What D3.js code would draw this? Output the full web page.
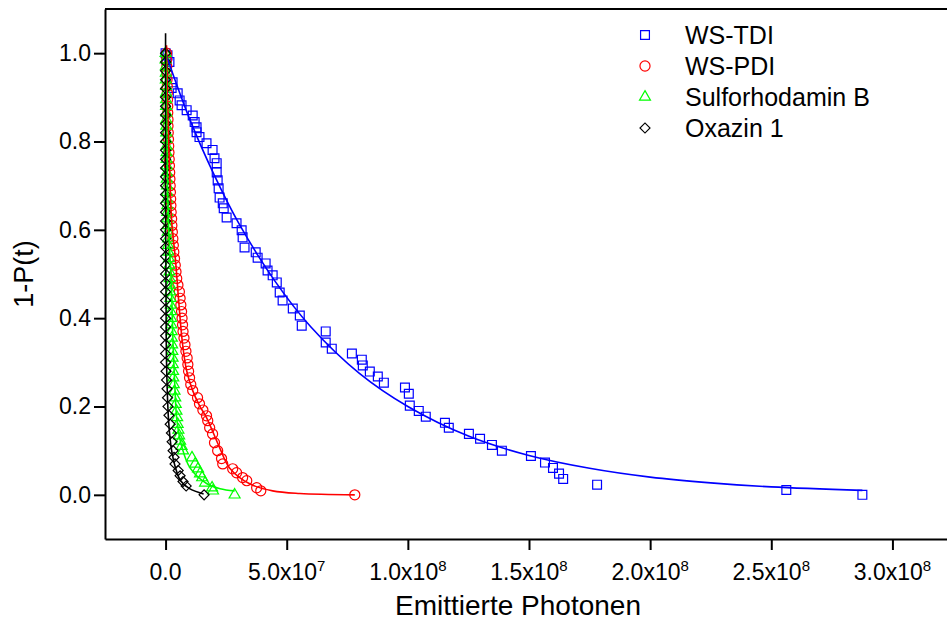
<!DOCTYPE html>
<html>
<head>
<meta charset="utf-8">
<script src="https://d3js.org/d3.v7.min.js"></script>
<style>
  body { margin: 0; background: #fff; }
  svg { font-family: Arial, "Liberation Sans", sans-serif; }
</style>
</head>
<body>
<div id="chart"></div>
<script>
// values, x in units of 10^6 photons, y = 1-P(t)
var tdiPoints = [[0,1.000],[0.8,0.995],[0.4,0.984],[1.6,0.980],[2.9,0.934],[2.5,0.921],[5.0,0.909],[5.8,0.893],[6.6,0.882],[8.7,0.871],
  [11.2,0.859],[12.0,0.844],[12.8,0.832],[12.8,0.821],[14.0,0.810],[16.9,0.796],[19.4,0.781],[20.2,0.762],[21.1,0.751],[21.1,0.730],
  [21.5,0.712],[21.9,0.694],[22.3,0.673],[23.6,0.660],[24.0,0.649],[25.2,0.628],[29.3,0.615],[31.4,0.599],[31.8,0.583],[32.6,0.560],
  [37.2,0.549],[38.0,0.537],[41.3,0.524],[42.1,0.508],[44.2,0.497],[45.9,0.481],[47.1,0.458],[48.3,0.440],[52.5,0.422],[55.4,0.406],
  [56.2,0.383],[66.1,0.370],[66.1,0.345],[68.6,0.331],[76.9,0.320],[81.0,0.306],[81.4,0.293],[84.3,0.279],[87.6,0.268],[90.1,0.254],
  [98.8,0.243],[100.4,0.229],[100.8,0.202],[104.5,0.190],[107.4,0.177],[115.3,0.163],[116.9,0.152],[125.2,0.138],[129.8,0.127],[134.7,0.113],
  [138.8,0.100],[150.8,0.088],[156.6,0.073],[159.9,0.061],[162.4,0.048],[164.1,0.036],[178.1,0.023],[256.2,0.011],[287.6,0.000]];

var pdiPoints = [[0.4,1.000],[0.4,0.985],[0.5,0.970],[0.6,0.955],[0.6,0.940],[0.7,0.925],[0.7,0.910],[0.8,0.895],[0.9,0.880],[0.9,0.865],
  [1.0,0.850],[1.0,0.835],[1.1,0.820],[1.2,0.805],[1.3,0.790],[1.4,0.775],[1.5,0.760],[1.6,0.745],[1.7,0.730],[1.8,0.715],
  [1.9,0.700],[2.0,0.685],[2.1,0.670],[2.2,0.655],[2.3,0.640],[2.5,0.625],[2.6,0.610],[2.8,0.595],[3.0,0.580],[3.2,0.565],
  [3.4,0.550],[3.7,0.535],[4.0,0.520],[4.3,0.505],[4.6,0.490],[5.1,0.475],[5.7,0.460],[6.0,0.445],[6.3,0.430],[6.6,0.415],
  [6.8,0.400],[7.0,0.385],[7.2,0.370],[7.6,0.355],[8.0,0.340],[8.4,0.325],[8.9,0.310],[9.2,0.295],[9.5,0.280],[9.9,0.265],
  [10.4,0.250],[11.2,0.236],[13.2,0.220],[14.0,0.206],[15.4,0.192],[16.9,0.179],[17.4,0.168],[18.2,0.152],[19.4,0.138],[20.2,0.118],
  [21.5,0.100],[23.1,0.082],[23.6,0.070],[27.7,0.059],[29.3,0.050],[31.8,0.039],[33.5,0.032],[37.6,0.016],[39.3,0.009],[78.1,0.000]];

var srbPoints = [[0.0,1.000],[0.0,0.985],[0.1,0.970],[0.1,0.955],[0.1,0.940],[0.2,0.925],[0.2,0.910],[0.2,0.895],[0.2,0.880],[0.3,0.865],
  [0.3,0.850],[0.3,0.835],[0.3,0.820],[0.3,0.805],[0.4,0.790],[0.4,0.775],[0.4,0.760],[0.5,0.745],[0.5,0.730],[0.5,0.715],
  [0.6,0.700],[0.6,0.685],[0.6,0.670],[0.7,0.655],[0.7,0.640],[0.8,0.625],[0.8,0.610],[0.9,0.595],[1.0,0.580],[1.1,0.565],
  [1.2,0.550],[1.4,0.535],[1.5,0.520],[1.6,0.505],[1.7,0.490],[1.8,0.475],[1.9,0.460],[2.0,0.445],[2.1,0.430],[2.2,0.415],
  [2.3,0.400],[2.4,0.385],[2.5,0.370],[2.6,0.355],[2.7,0.340],[2.8,0.325],[2.9,0.310],[3.0,0.295],[3.1,0.280],[3.2,0.265],
  [3.4,0.250],[3.7,0.235],[4.0,0.220],[4.2,0.205],[4.5,0.190],[4.8,0.175],[5.0,0.160],[5.3,0.147],[5.6,0.134],[6.0,0.122],
  [6.6,0.110],[7.2,0.100],[10.9,0.084],[12.2,0.070],[13.4,0.059],[14.2,0.048],[15.1,0.039],[16.3,0.027],[19.2,0.016],[19.6,0.009],
  [28.5,0.000]];

var oxaPoints = [[0,1.00],[0,0.98],[0,0.96],[0,0.94],[0,0.92],[0,0.90],[0,0.88],[0,0.86],[0,0.84],[0,0.82],
  [0,0.80],[0,0.78],[0,0.76],[0,0.74],[0,0.72],[0,0.70],[0,0.68],[0,0.66],[0,0.64],[0,0.62],
  [0,0.60],[0,0.58],[0,0.56],[0,0.54],[0,0.52],[0,0.50],[0,0.48],[0,0.46],[0,0.44],[0,0.42],
  [0,0.40],[0,0.38],[0,0.36],[0,0.34],[0,0.32],[0,0.30],[0.2,0.28],[0.4,0.26],[0.6,0.24],[0.8,0.22],
  [1.0,0.20],[1.4,0.18],[1.9,0.16],[2.4,0.14],[2.7,0.12],[3.1,0.10],[3.5,0.085],[3.9,0.070],[5.2,0.055],[6.0,0.043],
  [7.2,0.030],[8.5,0.020],[15.9,0.000]];

// fitted curves
var tdiFit = [[0,1.0],[10,0.85],[20,0.725],[30,0.617],[45,0.485],[60,0.38],[80,0.275],[100,0.2],[125,0.133],[150,0.089],
  [175,0.06],[200,0.04],[225,0.027],[250,0.018],[287.6,0.01]];
var pdiFit = [[0.4,1.018],[0.8,0.893],[1.65,0.735],[2.5,0.621],[4.1,0.531],[5.4,0.44],[7.0,0.342],[8.7,0.281],[11.2,0.236],[14.0,0.202],
  [16.9,0.175],[22.3,0.107],[26.4,0.061],[34.7,0.025],[44.2,0.009],[55.4,0.003],[78.1,0.0]];
var srbFit = [[0.1,1.0],[0.4,0.85],[0.8,0.7],[1.3,0.6],[2.0,0.52],[2.6,0.44],[3.1,0.34],[3.8,0.25],[4.7,0.168],[6.8,0.107],
  [10.1,0.061],[17.1,0.025],[22.5,0.014],[28.5,0.009]];
var oxaFit = [[0,1.045],[0,0.667],[0.2,0.44],[0.4,0.3],[1.24,0.168],[2.5,0.1],[4.1,0.061],[6.2,0.032],[9.9,0.014],[15.7,0.002]];

var seriesNames = ["WS-TDI", "WS-PDI", "Sulforhodamin B", "Oxazin 1"];
var seriesColors = ["#0000ff", "#ff0000", "#00ff00", "#000000"];

// axis ticks
var xTicks = [0, 50, 100, 150, 200, 250, 300];
var xTickMant = ["0.0", "5.0", "1.0", "1.5", "2.0", "2.5", "3.0"];
var xTickExp = ["", "7", "8", "8", "8", "8", "8"];
var xMinor = [-25, 25, 75, 125, 175, 225, 275];
var yTicks = [0, 0.2, 0.4, 0.6, 0.8, 1.0];
var yMinor = [-0.1, 0.1, 0.3, 0.5, 0.7, 0.9, 1.1];

var width = 947, height = 625;

var x = d3.scaleLinear().domain([-25, 325]).range([105, 953]);
var y = d3.scaleLinear().domain([-0.1, 1.1]).range([539, 9]);

var svg = d3.select("#chart").append("svg")
  .attr("width", width)
  .attr("height", height);

// top frame line
svg.append("line")
  .attr("x1", x(-25)).attr("x2", width)
  .attr("y1", y(1.1)).attr("y2", y(1.1))
  .attr("stroke", "#000").attr("stroke-width", 2);

// x axis
var xAxisGroup = svg.append("g").attr("transform", "translate(0," + y(-0.1) + ")");
xAxisGroup.call(d3.axisBottom(x).tickValues(xMinor).tickSize(6).tickSizeOuter(0).tickFormat(""));
xAxisGroup.call(d3.axisBottom(x).tickValues(xTicks).tickSize(11).tickSizeOuter(0).tickFormat(""));
xAxisGroup.selectAll("path, line").attr("stroke", "#000").attr("stroke-width", 2);

xTicks.forEach(function (v, i) {
  var t = svg.append("text")
    .attr("x", x(v))
    .attr("y", 580)
    .attr("text-anchor", "middle")
    .attr("font-size", "23px")
    .attr("fill", "#000");
  if (xTickExp[i] === "") {
    t.text(xTickMant[i]);
  } else {
    t.append("tspan").text(xTickMant[i] + "x10");
    t.append("tspan").attr("font-size", "15px").attr("dy", -9).text(xTickExp[i]);
  }
});

// y axis
var yAxisGroup = svg.append("g").attr("transform", "translate(" + x(-25) + ",0)");
yAxisGroup.call(d3.axisLeft(y).tickValues(yMinor).tickSize(6).tickSizeOuter(0).tickFormat(""));
yAxisGroup.call(d3.axisLeft(y).tickValues(yTicks).tickSize(11).tickSizeOuter(0).tickFormat(d3.format(".1f")));
yAxisGroup.selectAll("path, line").attr("stroke", "#000").attr("stroke-width", 2);
yAxisGroup.selectAll("text")
  .attr("font-size", "23px")
  .attr("font-family", "Arial, 'Liberation Sans', sans-serif")
  .attr("fill", "#000");

// axis titles
svg.append("text")
  .attr("x", 518)
  .attr("y", 615)
  .attr("text-anchor", "middle")
  .attr("font-size", "28px")
  .text("Emittierte Photonen");

svg.append("text")
  .attr("transform", "translate(24," + y(0.5) + ") rotate(-90)")
  .attr("text-anchor", "middle")
  .attr("dy", "0.35em")
  .attr("font-size", "27px")
  .text("1-P(t)");

// markers
var square = d3.symbol().type(d3.symbolSquare).size(78);
var circle = d3.symbol().type(d3.symbolCircle).size(80);
var triangle = d3.symbol().type(d3.symbolTriangle).size(52);
var diamond = d3.symbol().type(d3.symbolSquare).size(50);
var symbols = [square, circle, triangle, diamond];
var rotations = [0, 0, 0, 45];

function drawMarkers(data, i) {
  svg.append("g").selectAll("path")
    .data(data)
    .enter().append("path")
    .attr("d", symbols[i])
    .attr("transform", d => "translate(" + x(d[0]) + "," + y(d[1]) + ") rotate(" + rotations[i] + ")")
    .attr("fill", "none")
    .attr("stroke", seriesColors[i])
    .attr("stroke-width", 1.2);
}

drawMarkers(tdiPoints, 0);
drawMarkers(pdiPoints, 1);
drawMarkers(srbPoints, 2);
drawMarkers(oxaPoints, 3);

// fit lines
var line = d3.line()
  .x(d => x(d[0]))
  .y(d => y(d[1]))
  .curve(d3.curveCatmullRom.alpha(0.5));

[tdiFit, pdiFit, srbFit, oxaFit].forEach(function (fit, i) {
  svg.append("path")
    .attr("d", line(fit))
    .attr("fill", "none")
    .attr("stroke", seriesColors[i])
    .attr("stroke-width", 1.6);
});

// legend
var legend = svg.append("g");
var legendY = [35, 66, 97, 128];
seriesNames.forEach(function (name, i) {
  legend.append("path")
    .attr("d", symbols[i])
    .attr("transform", "translate(645," + legendY[i] + ") rotate(" + rotations[i] + ")")
    .attr("fill", "none")
    .attr("stroke", seriesColors[i])
    .attr("stroke-width", 1.2);
  legend.append("text")
    .attr("x", 685)
    .attr("y", legendY[i])
    .attr("dy", "0.35em")
    .attr("font-size", "25px")
    .text(name);
});
</script>
</body>
</html>
